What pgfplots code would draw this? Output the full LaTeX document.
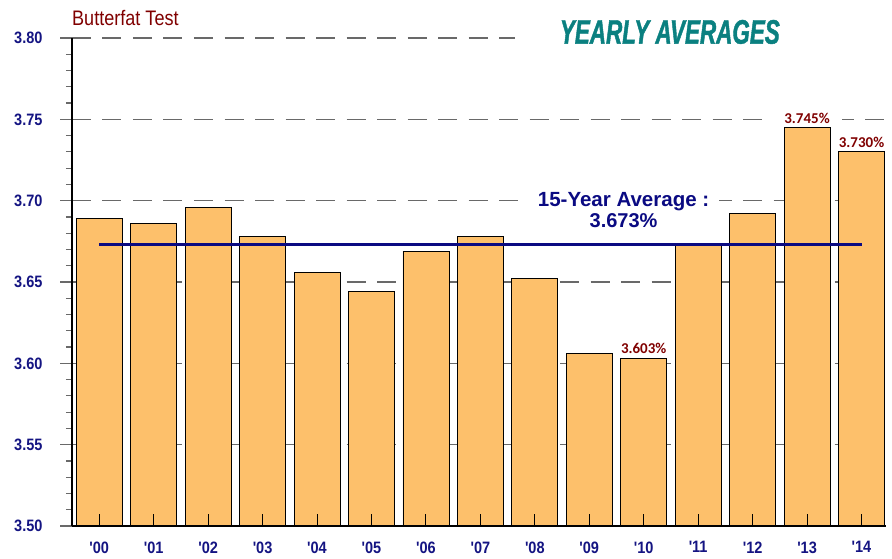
\documentclass[border=0pt]{standalone}
\usepackage{fontspec}
\setmainfont{Liberation Sans}
\newfontfamily\narrowfont{Liberation Sans}[FakeStretch=0.88]
\newfontfamily\titlefont{Liberation Sans}[FakeStretch=0.86]
\newfontfamily\calfont{Carlito}
\newfontfamily\yfont{Liberation Sans}[FakeStretch=0.66, FakeBold=1.2]
\usepackage{graphicx}
\usepackage{pgfplots}
\pgfplotsset{compat=1.18}
\definecolor{barfill}{RGB}{253,192,107}
\definecolor{tickblue}{RGB}{20,20,130}
\definecolor{navyline}{RGB}{10,10,130}
\definecolor{darkred}{RGB}{128,0,0}
\definecolor{tealc}{RGB}{10,128,128}
\definecolor{gridgray}{RGB}{105,105,105}
\begin{document}
\begin{tikzpicture}
\begin{axis}[
  at={(0,0)}, anchor=south west,
  scale only axis, width=814pt, height=488pt,
  xmin=-0.5, xmax=14.45, ymin=3.5, ymax=3.8,
  axis x line=bottom, axis y line=left,
  axis line style={-, black, line width=1.4pt},
  axis on top,
  clip mode=individual,
  xtick={0,...,14},
  xticklabels={'00,'01,'02,'03,'04,'05,'06,'07,'08,'09,'10,'11,'12,'13,'14},
  ytick={3.5,3.55,3.6,3.65,3.7,3.75,3.8},
  yticklabels={3.50,3.55,3.60,3.65,3.70,3.75,3.80},
  minor y tick num=4,
  tick align=outside,
  major tick length=12pt, minor tick length=6pt,
  xtick style={black, line width=0.9pt, yshift=12pt},
  ytick style={gridgray, line width=1.2pt},
  minor tick style={black!80, line width=0.9pt},
  xticklabel style={font=\narrowfont\bfseries\fontsize{16.5}{16.5}\selectfont, text=tickblue},
  yticklabel style={font=\narrowfont\bfseries\fontsize{16.5}{16.5}\selectfont, text=tickblue, xshift=-14pt},
]
\pgfplotsinvokeforeach{3.55,3.6,3.65,3.7,3.75,3.8}{
  \addplot[gridgray, line width=1.3pt, dash pattern=on 19pt off 11.5pt, forget plot] coordinates {(-0.5,#1) (14.45,#1)};
}
\node[fill=white, minimum width=372pt, minimum height=30pt, inner sep=0pt] at (axis cs:11.06,3.80) {};
\addplot[ybar, bar width=46pt, bar shift=0pt, fill=barfill, draw=black, line width=0.8pt]
  coordinates {(0,3.689) (1,3.686) (2,3.696) (3,3.678) (4,3.656) (5,3.644) (6,3.669) (7,3.678) (8,3.652) (9,3.606) (10,3.603) (11,3.673) (12,3.692) (13,3.745) (14,3.730)};
\addplot[navyline, line width=2.3pt] coordinates {(0,3.673) (14,3.673)};
\node[font=\calfont\bfseries\fontsize{15}{15}\selectfont, text=darkred, anchor=south] at (axis cs:10,3.6035) {3.603\%};
\node[font=\calfont\bfseries\fontsize{15}{15}\selectfont, text=darkred, anchor=south, fill=white, inner xsep=12pt, inner ysep=2pt] at (axis cs:13,3.7462) {3.745\%};
\node[font=\calfont\bfseries\fontsize{15}{15}\selectfont, text=darkred, anchor=south] at (axis cs:14,3.7305) {3.730\%};
\node[font=\bfseries\fontsize{20.5}{20.5}\selectfont, text=navyline, anchor=base, fill=white, inner xsep=10pt, inner ysep=2pt] at (axis cs:9.63,3.6967) {15-Year Average :};
\node[font=\bfseries\fontsize{20}{20}\selectfont, text=navyline, anchor=base] at (axis cs:9.63,3.6838) {3.673\%};
\node[font=\titlefont\fontsize{21}{21}\selectfont, text=darkred, anchor=base west, inner sep=0pt] at (axis cs:-0.5,3.8074) {Butterfat Test};
\node[font=\yfont\bfseries\itshape\fontsize{34}{34}\selectfont, text=tealc] at (axis cs:10.48,3.8037) {YEARLY AVERAGES};
\end{axis}
\useasboundingbox (-72pt,-32pt) rectangle (820pt,526pt);
\end{tikzpicture}
\end{document}
